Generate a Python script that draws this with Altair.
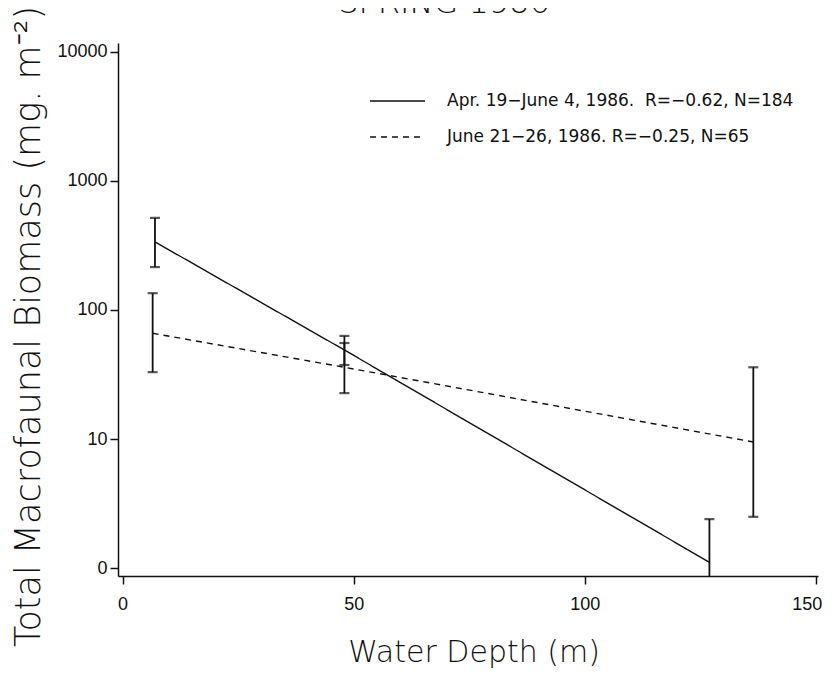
import altair as alt
import pandas as pd

# ---- data ----
solid_x = [7, 48, 127]
solid_mean = [337, 49, 1.11]
solid_lo = [215, 37.5, 0.51]
solid_hi = [517, 63, 2.4]

dash_x = [6.5, 48, 136.5]
dash_mean = [66, 36, 9.5]
dash_lo = [33, 22.7, 2.5]
dash_hi = [135, 55.5, 36]

series_names = ["Apr. 19\u2212June 4, 1986.\u00a0 R=\u22120.62, N=184",
                "June 21\u221226, 1986. R=\u22120.25, N=65"]
y_ticks = [1, 10, 100, 1000, 10000]
x_ticks = [0, 50, 100, 150]
title_text = "SPRING 1986"
x_title = "Water Depth (m)"
y_title = "Total Macrofaunal Biomass (mg. m\u207b\u00b2)"

TFONT = "DejaVu Sans"
LFONT = "Liberation Sans"
INK = "#111111"

rows = []
for s, xs, ms, los, his in [("solid", solid_x, solid_mean, solid_lo, solid_hi),
                            ("dash", dash_x, dash_mean, dash_lo, dash_hi)]:
    for x, m, lo, hi in zip(xs, ms, los, his):
        rows.append({"series": s, "depth": x, "mean": m, "lo": lo, "hi": hi})
df = pd.DataFrame(rows)

xscale = alt.Scale(domain=[-1, 150.5], nice=False, zero=False)
yscale = alt.Scale(type="log", domain=[0.87, 11700], nice=False)

xaxis = alt.Axis(values=x_ticks, title=None, grid=False, tickSize=8,
                 labelPadding=11, labelFontSize=18, labelFont=LFONT,
                 labelColor=INK, domainColor=INK, tickColor=INK,
                 domainWidth=1.5, tickWidth=1.5,
                 labelOffset={"condition": {"test": "datum.value == 150", "value": -9},
                              "value": 0})
yaxis = alt.Axis(values=y_ticks, title=None, grid=False, tickSize=8,
                 labelPadding=3, labelFontSize=18, labelFont=LFONT,
                 labelColor=INK, domainColor=INK, tickColor=INK,
                 domainWidth=1.5, tickWidth=1.5,
                 labelExpr="datum.value == 1 ? '0' : format(datum.value, 'd')")

base = alt.Chart(df)

lines = base.mark_line(color=INK, strokeWidth=1.4).encode(
    x=alt.X("depth:Q", scale=xscale, axis=xaxis),
    y=alt.Y("mean:Q", scale=yscale, axis=yaxis),
    strokeDash=alt.StrokeDash("series:N",
                              scale=alt.Scale(domain=["solid", "dash"],
                                              range=[[1, 0], [6, 5]]),
                              legend=None),
    detail="series:N",
)

bars = base.mark_rule(color=INK, strokeWidth=1.8, clip=True).encode(
    x=alt.X("depth:Q", scale=xscale),
    y=alt.Y("lo:Q", scale=yscale),
    y2="hi:Q",
)

cap_lo = base.mark_tick(color=INK, orient="horizontal", size=10,
                        thickness=2.2, clip=True).encode(
    x=alt.X("depth:Q", scale=xscale),
    y=alt.Y("lo:Q", scale=yscale),
)
cap_hi = base.mark_tick(color=INK, orient="horizontal", size=10,
                        thickness=2.2, clip=True).encode(
    x=alt.X("depth:Q", scale=xscale),
    y=alt.Y("hi:Q", scale=yscale),
)

# legend (drawn in pixel space)
leg_df = pd.DataFrame({"name": series_names, "kind": ["solid", "dash"],
                       "ypos": [58, 94]})
leg_lines = alt.Chart(leg_df).mark_rule(color=INK, strokeWidth=1.4).encode(
    x=alt.value(252), x2=alt.value(307),
    y=alt.Y("ypos:Q", scale=None),
    strokeDash=alt.StrokeDash("kind:N",
                              scale=alt.Scale(domain=["solid", "dash"],
                                              range=[[1, 0], [4, 4]]),
                              legend=None),
)
leg_text = alt.Chart(leg_df).mark_text(align="left", baseline="middle",
                                       font=TFONT, fontSize=17, color=INK).encode(
    x=alt.value(329), y=alt.Y("ypos:Q", scale=None), text="name:N")

tdf = pd.DataFrame({"t": [title_text, x_title, y_title]})
title_mark = alt.Chart(tdf).transform_filter(alt.datum.t == title_text).mark_text(
    font=TFONT, fontSize=32, fontWeight=200, color=INK, align="center",
    baseline="alphabetic").encode(x=alt.value(326), y=alt.value(-30), text="t:N")
xtitle_mark = alt.Chart(tdf).transform_filter(alt.datum.t == x_title).mark_text(
    font=TFONT, fontSize=30, fontWeight=200, color=INK, align="center",
    baseline="alphabetic").encode(x=alt.value(356), y=alt.value(619), text="t:N")
ytitle_mark = alt.Chart(tdf).transform_filter(alt.datum.t == y_title).mark_text(
    font=TFONT, fontSize=35, fontWeight=200, color=INK, align="left", angle=270,
    baseline="alphabetic").encode(x=alt.value(-78), y=alt.value(604), text="t:N")

chart = alt.layer(lines, bars, cap_lo, cap_hi, leg_lines, leg_text,
                  title_mark, xtitle_mark, ytitle_mark).properties(
    width=700, height=533,
    autosize=alt.AutoSizeParams(type="none"),
    padding={"left": 110, "top": 35, "right": 7, "bottom": 95},
    background="white",
).configure_view(stroke=None)

chart.save("out.html", embed_options={"renderer": "svg", "actions": False})
